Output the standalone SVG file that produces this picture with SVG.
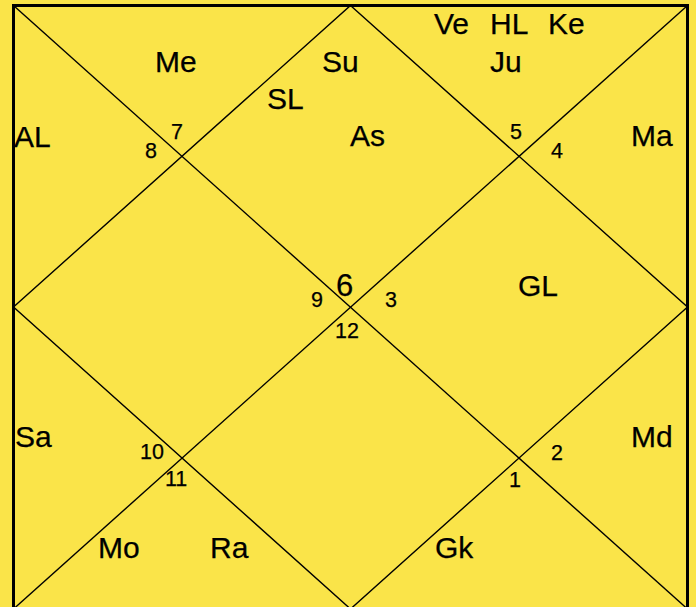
<svg xmlns="http://www.w3.org/2000/svg" width="696" height="607" viewBox="0 0 696 607">
<style>
.bg{fill:#FAE449}
.frame{fill:none;stroke:#000;stroke-width:3}
.ln{stroke:#000;stroke-width:1.4;fill:none}
text{font-family:"Liberation Sans",Arial,sans-serif;fill:#000;stroke:#000;stroke-width:0.25}
.lb{font-size:30px}
.nm{font-size:21.5px}
.big{font-size:31px}
</style>
<rect class="bg" x="0" y="0" width="696" height="607"/>
<g id="connectors">
<line class="ln" x1="13.5" y1="5.5" x2="687.5" y2="609"/>
<line class="ln" x1="687.5" y1="5.5" x2="13.5" y2="609"/>
<polygon class="ln" points="350.5,5.5 687.5,307 350.5,609 13.5,307"/>
<rect class="frame" x="13.5" y="5.5" width="674" height="603.5"/>
</g>
<g id="house1"><text class="nm" x="509" y="487">1</text><text class="lb" x="435" y="558">Gk</text></g>
<g id="house2"><text class="nm" x="551" y="460">2</text><text class="lb" x="631" y="447">Md</text></g>
<g id="house3"><text class="nm" x="385" y="307">3</text><text class="lb" x="518" y="296">GL</text></g>
<g id="house4"><text class="nm" x="551" y="158">4</text><text class="lb" x="631" y="146">Ma</text></g>
<g id="house5"><text class="nm" x="510" y="139">5</text><text class="lb" x="434" y="34">Ve</text><text class="lb" x="490" y="34">HL</text><text class="lb" x="548" y="34">Ke</text><text class="lb" x="490" y="72">Ju</text></g>
<g id="house6"><text class="big" x="336" y="296">6</text><text class="lb" x="322" y="72">Su</text><text class="lb" x="267" y="109">SL</text><text class="lb" x="350" y="146">As</text></g>
<g id="house7"><text class="nm" x="171" y="139">7</text><text class="lb" x="155" y="72">Me</text></g>
<g id="house8"><text class="nm" x="145" y="158">8</text><text class="lb" x="14" y="147">AL</text></g>
<g id="house9"><text class="nm" x="311" y="307">9</text></g>
<g id="house10"><text class="nm" x="140" y="459">10</text><text class="lb" x="15" y="447">Sa</text></g>
<g id="house11"><text class="nm" x="165" y="486">11</text><text class="lb" x="98" y="558">Mo</text><text class="lb" x="210" y="558">Ra</text></g>
<g id="house12"><text class="nm" x="335" y="338">12</text></g>
</svg>
